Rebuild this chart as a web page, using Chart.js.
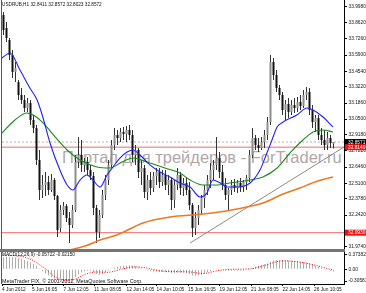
<!DOCTYPE html>
<html>
<head>
<meta charset="utf-8">
<script src="https://cdn.jsdelivr.net/npm/chart.js@4.4.1/dist/chart.umd.min.js"></script>
<style>
  body { margin: 0; background: #fff; }
  #wrap { position: relative; width: 366px; height: 293px; overflow: hidden; }
  #wrap canvas { position: absolute; left: 0; }
  .txt { position: absolute; white-space: nowrap; color: #111; }
  #wm { color: #b0a8a8; }
  #sep { position: absolute; left: 0; top: 249px; width: 345px; height: 3px; background: #747474; }
</style>
</head>
<body>
<div id="wrap">
  <div id="wm" class="txt">Портал для трейдеров - ForTrader.ru</div>
  <canvas id="main" width="366" height="249" style="top:0"></canvas>
  <div id="sep"></div>
  <canvas id="macd" width="366" height="41" style="top:252px"></canvas>
  <div id="hdr" class="txt">USDRUB,H1 32.8411 32.8572 32.8023 32.8572</div>
  <div id="macdLbl" class="txt">MACD(12,26,9) -0.05722 -0.02150</div>
  <div id="copy" class="txt">MetaTrader FIX, © 2001-2012, MetaQuotes Software Corp.</div>
</div>
<script>
/* ── USDRUB H1 candles, 4–26 Jun 2012 ── */

const OPEN = [
  33.928, 33.818, 33.717, 33.591, 33.448, 33.363, 33.254, 33.211, 33.144, 33.186,
  33.043, 32.975, 32.706, 32.453, 32.495, 32.520, 32.453, 32.537, 32.402, 32.132,
  32.284, 32.318, 32.217, 32.158, 32.284, 32.689, 32.748, 32.664, 32.689, 32.621,
  32.571, 32.301, 32.099, 32.242, 32.411, 32.537, 32.664, 32.832, 32.916, 32.891,
  32.942, 32.925, 32.959, 32.916, 32.748, 32.790, 32.604, 32.638, 32.436, 32.537,
  32.470, 32.571, 32.604, 32.520, 32.579, 32.495, 32.537, 32.368, 32.495, 32.579,
  32.470, 32.512, 32.453, 32.326, 32.132, 32.217, 32.284, 32.385, 32.453, 32.537,
  32.621, 32.664, 32.722, 32.604, 32.495, 32.411, 32.453, 32.495, 32.470, 32.512,
  32.478, 32.520, 32.554, 32.748, 32.891, 32.832, 32.807, 32.857, 32.916, 33.026,
  33.532, 33.422, 33.313, 33.254, 33.127, 33.178, 33.110, 33.169, 33.144, 33.195,
  33.161, 33.254, 33.279, 33.127, 33.026, 33.060, 32.916, 32.874, 32.832, 32.891,
  32.8411,
];
const HIGH = [
  33.953, 33.869, 33.734, 33.633, 33.532, 33.380, 33.313, 33.254, 33.228, 33.211,
  33.085, 33.001, 32.790, 32.579, 32.604, 32.571, 32.588, 32.554, 32.411, 32.326,
  32.352, 32.335, 32.267, 32.326, 32.748, 32.900, 32.874, 32.722, 32.731, 32.664,
  32.604, 32.326, 32.284, 32.453, 32.579, 32.706, 32.874, 32.975, 32.959, 32.975,
  32.984, 32.992, 33.001, 32.959, 32.832, 32.807, 32.706, 32.664, 32.579, 32.604,
  32.604, 32.638, 32.638, 32.621, 32.621, 32.579, 32.554, 32.537, 32.638, 32.604,
  32.554, 32.562, 32.520, 32.343, 32.267, 32.326, 32.411, 32.495, 32.579, 32.680,
  32.706, 32.900, 32.773, 32.664, 32.554, 32.470, 32.537, 32.545, 32.537, 32.554,
  32.537, 32.579, 32.790, 32.975, 32.916, 32.891, 32.900, 32.959, 33.068, 33.591,
  33.566, 33.464, 33.338, 33.279, 33.211, 33.228, 33.211, 33.228, 33.237, 33.254,
  33.296, 33.321, 33.313, 33.169, 33.085, 33.085, 32.975, 32.959, 32.942, 32.916,
  32.8572,
];
const LOW = [
  33.759, 33.700, 33.549, 33.397, 33.363, 33.211, 33.178, 33.110, 33.110, 33.001,
  32.933, 32.664, 32.368, 32.385, 32.402, 32.411, 32.436, 32.368, 32.057, 32.099,
  32.242, 32.183, 32.006, 32.132, 32.267, 32.638, 32.604, 32.604, 32.579, 32.537,
  32.242, 32.006, 32.048, 32.217, 32.368, 32.495, 32.638, 32.790, 32.832, 32.857,
  32.874, 32.857, 32.874, 32.689, 32.664, 32.554, 32.495, 32.385, 32.368, 32.411,
  32.436, 32.495, 32.470, 32.486, 32.453, 32.411, 32.284, 32.301, 32.453, 32.411,
  32.402, 32.411, 32.284, 32.057, 32.073, 32.158, 32.242, 32.301, 32.411, 32.470,
  32.537, 32.621, 32.554, 32.453, 32.368, 32.284, 32.411, 32.436, 32.427, 32.436,
  32.436, 32.453, 32.520, 32.722, 32.790, 32.773, 32.790, 32.807, 32.874, 33.001,
  33.380, 33.279, 33.211, 33.085, 33.043, 33.060, 33.085, 33.102, 33.110, 33.127,
  33.144, 33.211, 33.085, 32.975, 32.942, 32.874, 32.832, 32.790, 32.790, 32.807,
  32.8023,
];
const CLOSE = [
  33.802, 33.734, 33.591, 33.448, 33.481, 33.254, 33.211, 33.144, 33.186, 33.043,
  32.975, 32.706, 32.453, 32.495, 32.520, 32.453, 32.537, 32.402, 32.115, 32.284,
  32.318, 32.217, 32.158, 32.284, 32.689, 32.748, 32.664, 32.689, 32.621, 32.571,
  32.301, 32.099, 32.242, 32.411, 32.537, 32.664, 32.832, 32.916, 32.891, 32.942,
  32.925, 32.959, 32.916, 32.748, 32.790, 32.604, 32.638, 32.436, 32.537, 32.470,
  32.571, 32.604, 32.520, 32.579, 32.495, 32.537, 32.368, 32.495, 32.579, 32.470,
  32.512, 32.453, 32.326, 32.132, 32.217, 32.284, 32.385, 32.453, 32.537, 32.621,
  32.664, 32.722, 32.604, 32.495, 32.411, 32.453, 32.495, 32.470, 32.512, 32.478,
  32.520, 32.554, 32.748, 32.891, 32.832, 32.807, 32.857, 32.916, 33.026, 33.532,
  33.422, 33.313, 33.254, 33.127, 33.178, 33.110, 33.169, 33.144, 33.195, 33.161,
  33.254, 33.279, 33.127, 33.026, 33.060, 32.916, 32.874, 32.832, 32.891, 32.849,
  32.8572,
];

// Moving averages as [bar, price] samples
const MA_FAST = [
  [-0.5, 33.566], [2.2, 33.608], [5.5, 33.464], [8.8, 33.313], [11.2, 33.211], [13.2, 33.060],
  [15.5, 32.849], [18.8, 32.621], [21.2, 32.495], [23.2, 32.453], [25.5, 32.537], [27.8, 32.579],
  [29.8, 32.537], [32.2, 32.478], [34.5, 32.579], [36.5, 32.647], [38.8, 32.722], [41.2, 32.773],
  [43.2, 32.790], [45.5, 32.748], [48.8, 32.664], [52.2, 32.604], [55.5, 32.562], [58.8, 32.512],
  [62.2, 32.478], [65.5, 32.394], [67.8, 32.427], [69.8, 32.537], [72.2, 32.512], [74.5, 32.478],
  [77.8, 32.478], [82.2, 32.512], [85.5, 32.621], [87.8, 32.765], [89.5, 32.874], [91.2, 32.984],
  [93.2, 33.026], [97.8, 33.085], [101.2, 33.144], [103.2, 33.127], [106.5, 33.068], [109.8, 32.984],
];
const MA_MID = [
  [-0.5, 32.933], [3.8, 33.043], [7.8, 33.102], [10.5, 33.077], [13.2, 33.018], [17.2, 32.900],
  [21.2, 32.790], [25.5, 32.706], [31.2, 32.647], [35.5, 32.638], [39.5, 32.689], [43.2, 32.722],
  [48.8, 32.680], [53.8, 32.638], [58.8, 32.596], [62.2, 32.537], [66.5, 32.495], [71.2, 32.495],
  [75.5, 32.512], [82.2, 32.537], [86.5, 32.562], [91.2, 32.638], [95.5, 32.765], [99.8, 32.874],
  [103.2, 32.942], [106.5, 32.959], [109.8, 32.942],
];
const MA_SLOW = [
  [22.2, 31.947], [27.2, 31.981], [32.2, 32.031], [37.8, 32.073], [46.5, 32.175], [55.5, 32.225],
  [66.5, 32.250], [77.8, 32.293], [86.5, 32.343], [93.2, 32.419], [98.8, 32.470], [104.8, 32.529],
  [109.8, 32.562],
];
const TREND = [[62.2, 32.006], [113.5, 32.815]];
const LEVELS = [32.8140, 32.0930];
const BID = 32.8571;
const Y_TICKS = [
  33.998, 33.862, 33.726, 33.590, 33.454, 33.322, 33.186, 33.050,
  32.918, 32.782, 32.646, 32.510, 32.378, 32.242, 31.974,
];

// MACD(12,26,9): main histogram per bar, signal as [bar, value] samples
const MACD_MAIN = [
  0.32, 0.33, 0.33, 0.32, 0.31, 0.29, 0.27, 0.24, 0.21, 0.18,
  0.14, 0.09, 0.02, -0.05, -0.11, -0.16, -0.20, -0.24, -0.28, -0.30,
  -0.31, -0.31, -0.30, -0.27, -0.20, -0.13, -0.08, -0.05, -0.03, -0.04,
  -0.07, -0.12, -0.14, -0.12, -0.08, -0.04, 0.01, 0.04, 0.06, 0.08,
  0.09, 0.10, 0.10, 0.09, 0.08, 0.05, 0.03, -0.01, -0.03, -0.05,
  -0.06, -0.06, -0.07, -0.07, -0.08, -0.08, -0.10, -0.10, -0.09, -0.09,
  -0.09, -0.10, -0.12, -0.16, -0.17, -0.16, -0.14, -0.11, -0.08, -0.05,
  -0.02, 0.00, 0.00, -0.01, -0.03, -0.04, -0.04, -0.04, -0.04, -0.03,
  -0.03, -0.02, 0.01, 0.04, 0.07, 0.09, 0.11, 0.13, 0.15, 0.20,
  0.23, 0.24, 0.245, 0.24, 0.235, 0.23, 0.225, 0.22, 0.21, 0.20,
  0.19, 0.18, 0.16, 0.13, 0.10, 0.07, 0.04, 0.02, -0.01, -0.03,
  -0.057,
];
const MACD_SIGNAL = [
  [-0.2, 0.36], [3.2, 0.36], [8.8, 0.27], [13.8, 0.02], [17.2, -0.20], [20.5, -0.29],
  [23.8, -0.26], [27.2, -0.13], [31.2, -0.07], [34.5, -0.08], [38.8, -0.01], [43.2, 0.06],
  [46.5, 0.05], [52.2, -0.04], [57.2, -0.06], [62.2, -0.07], [66.5, -0.11], [71.2, -0.04],
  [75.5, 0.00], [82.2, 0.01], [86.5, 0.09], [93.2, 0.22], [97.8, 0.20], [103.2, 0.12],
  [109.8, -0.02],
];
const MACD_TICKS = [0.37382, 0, -0.30581];

const X_LABELS = [
  '4 Jun 2012', '5 Jun 16:05', '7 Jun 12:05', '11 Jun 08:05', '12 Jun 14:05', '14 Jun 10:05',
  '15 Jun 16:05', '19 Jun 12:05', '21 Jun 08:05', '22 Jun 14:05', '26 Jun 10:05',
];
const X_LABEL_BARS = [-0.5, 9.5, 20, 30.2, 41, 51, 61.5, 72, 82.5, 93, 103.5];

/* ── rendering ── */

const FONT = "'Liberation Sans', Arial, sans-serif";
const TICK_FONT = { family: FONT, size: 4.8 };
const X_MIN = -0.5, X_MAX = 113.5;

const pts = (arr) => arr.map(([x, y]) => ({ x, y }));
const barIdx = OPEN.map((_, i) => i);

function maLine(data, color, width) {
  return {
    type: 'line', data: pts(data), borderColor: color, borderWidth: width,
    pointRadius: 0, cubicInterpolationMode: 'monotone', order: 1,
  };
}
function hLine(v, color, dash) {
  return {
    type: 'line', data: [{ x: X_MIN, y: v }, { x: X_MAX, y: v }],
    borderColor: color, borderWidth: 1, borderDash: dash || [], pointRadius: 0, order: 5,
  };
}

// left frame edge, like the terminal window border
const frame = {
  id: 'frame',
  afterDraw(chart) {
    const { ctx, chartArea: a } = chart;
    ctx.save();
    ctx.strokeStyle = '#555';
    ctx.lineWidth = 1;
    ctx.beginPath();
    ctx.moveTo(a.left - 0.5, a.top);
    ctx.lineTo(a.left - 0.5, a.bottom);
    ctx.stroke();
    ctx.restore();
  },
};

// coloured price tags on the right axis
const priceTags = {
  id: 'priceTags',
  afterDraw(chart) {
    const { ctx, chartArea: a, scales: { y } } = chart;
    const tags = [
      { value: BID, bg: '#000' },
      { value: LEVELS[0], bg: '#f01010' },
      { value: LEVELS[1], bg: '#f01010' },
    ];
    ctx.save();
    ctx.font = `4.8px ${FONT}`;
    ctx.textBaseline = 'middle';
    for (const t of tags) {
      const py = y.getPixelForValue(t.value);
      ctx.fillStyle = t.bg;
      ctx.fillRect(a.right + 1, py - 3, 21, 6);
      ctx.fillStyle = '#fff';
      ctx.fillText(t.value.toFixed(4), a.right + 4, py + 0.3);
    }
    ctx.restore();
  },
};

function rightAxis(min, max, ticks, fmt) {
  return {
    position: 'right', min, max, beginAtZero: false,
    afterBuildTicks: (s) => { s.ticks = ticks.map(v => ({ value: v })); },
    afterFit: (s) => { s.width = 22; s.paddingTop = 0; s.paddingBottom = 0; },
    ticks: { padding: 1.5, color: '#111', font: TICK_FONT, callback: fmt },
    grid: { drawOnChartArea: false, tickLength: 3, color: '#000' },
    border: { color: '#000' },
  };
}

new Chart(document.getElementById('main'), {
  type: 'bar',
  data: {
    datasets: [
      maLine(MA_FAST, '#2020ff', 1.1),
      maLine(MA_MID, '#1a8a1a', 1.1),
      maLine(MA_SLOW, '#ec7a22', 1.6),
      {
        type: 'bar', order: 3, grouped: false, barThickness: 1, inflateAmount: 0,
        backgroundColor: '#333',
        data: barIdx.map(i => ({ x: i, y: [LOW[i], HIGH[i]] })),
      },
      {
        type: 'bar', order: 2, grouped: false, barThickness: 2, inflateAmount: 0,
        backgroundColor: (c) => (CLOSE[c.dataIndex] >= OPEN[c.dataIndex] ? '#8c8c8c' : '#111'),
        data: barIdx.map(i => ({ x: i, y: [OPEN[i], CLOSE[i]] })),
      },
      {
        type: 'line', order: 4, data: pts(TREND), borderColor: '#8a8a8a',
        borderWidth: 1, pointRadius: 0,
      },
      hLine(LEVELS[0], '#f26a6a'),
      hLine(LEVELS[1], '#f26a6a'),
      hLine(BID, '#b4b4b4', [2, 2]),
    ],
  },
  options: {
    animation: false, responsive: false, events: [],
    layout: { padding: { left: 2, top: 0, right: 0, bottom: 0 } },
    plugins: { legend: { display: false }, tooltip: { enabled: false } },
    scales: {
      x: { type: 'linear', min: X_MIN, max: X_MAX, offset: false, display: false, grid: { offset: false } },
      y: rightAxis(31.9554, 34.0545, Y_TICKS, v => v.toFixed(4)),
    },
  },
  plugins: [frame, priceTags],
});

new Chart(document.getElementById('macd'), {
  type: 'bar',
  data: {
    datasets: [
      {
        type: 'line', order: 1, data: pts(MACD_SIGNAL), borderColor: '#f00',
        borderWidth: 1, borderDash: [1, 1.5], pointRadius: 0, cubicInterpolationMode: 'monotone',
      },
      {
        type: 'bar', order: 2, grouped: false, barThickness: 1, inflateAmount: 0,
        backgroundColor: '#adadad',
        data: barIdx.map(i => ({ x: i, y: MACD_MAIN[i] })),
      },
    ],
  },
  options: {
    animation: false, responsive: false, events: [],
    layout: { padding: { left: 2, top: 0, right: 0, bottom: 0 } },
    plugins: { legend: { display: false }, tooltip: { enabled: false } },
    scales: {
      x: {
        type: 'linear', min: X_MIN, max: X_MAX, offset: false,
        afterBuildTicks: (s) => { s.ticks = X_LABEL_BARS.map(v => ({ value: v })); },
        afterFit: (s) => { s.height = 9; s.paddingLeft = 0; s.paddingRight = 0; },
        ticks: {
          autoSkip: false, maxRotation: 0, align: 'start', padding: 1, color: '#111',
          font: TICK_FONT, callback: (v, i) => X_LABELS[i],
        },
        grid: { drawOnChartArea: false, tickLength: 2, color: '#000', offset: false },
        border: { color: '#000' },
      },
      y: rightAxis(-0.3842, 0.4522, MACD_TICKS, v => (v === 0 ? '0.00' : v.toFixed(5))),
    },
  },
  plugins: [frame],
});

// overlay texts: size each to the width it spans in the screenshot
const measureCtx = document.createElement('canvas').getContext('2d');
function placeText(id, left, centerY, width) {
  const el = document.getElementById(id);
  measureCtx.font = `100px ${FONT}`;
  const size = 100 * width / measureCtx.measureText(el.textContent).width;
  Object.assign(el.style, {
    left: left + 'px', top: (centerY - size / 2) + 'px',
    fontSize: size + 'px', lineHeight: size + 'px', fontFamily: FONT,
  });
}
placeText('hdr', 2, 5, 100);
placeText('wm', 62, 157, 280);
placeText('macdLbl', 2, 255.5, 73);
placeText('copy', 2, 282, 141);
</script>
</body>
</html>
